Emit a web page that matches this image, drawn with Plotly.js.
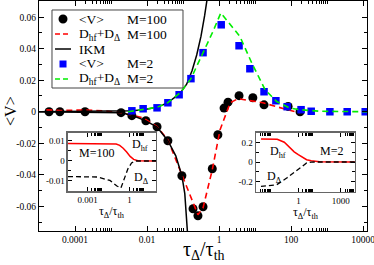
<!DOCTYPE html>
<html>
<head>
<meta charset="utf-8">
<script src="https://cdn.plot.ly/plotly-3.0.1.min.js"></script>
<style>html,body{margin:0;padding:0;background:#fff;}#chart{width:374px;height:265px;}</style>
</head>
<body>
<div id="chart"></div>
<script>
// ---- main panel data ----
const vM100_x = [1.9e-5, 3.8e-5, 1.9e-4, 1.9e-3, 3.8e-3, 9.3e-3, 0.019, 0.038, 0.093, 0.19, 0.26, 0.36, 0.65, 0.93, 1.38, 1.78, 3.6, 8.7, 17.8, 83, 178];
const vM100_y = [0, 0, 0, -0.0006, -0.0025, -0.0057, -0.0095, -0.0184, -0.0406, -0.0616, -0.066, -0.0603, -0.0362, -0.0146, 0.0023, 0.0061, 0.0102, 0.0089, 0.0044, 0.0034, 0];

const dM100_x = [1.6e-5, 4e-5, 1.9e-4, 6.3e-4, 1.8e-3, 3.8e-3, 7.8e-3, 0.019, 0.038, 0.093, 0.178, 0.26, 0.36, 0.65, 1.07, 2.04, 3.4, 16.6, 78, 178];
const dM100_y = [0.0012, 0.0008, 0.0012, 0.0006, -0.0006, -0.002, -0.0038, -0.0095, -0.0178, -0.040, -0.0559, -0.0654, -0.061, -0.0368, -0.0114, 0.0057, 0.0083, 0.0057, 0.0013, -0.0006];

const ikmM2_x = [1e-5, 3.2e-4, 1.6e-3, 3.8e-3, 7.9e-3, 0.019, 0.038, 0.083, 0.126, 0.178, 0.24, 0.316, 0.398, 0.5];
const ikmM2_y = [0, 0.0001, 0.0003, 0.0006, 0.0012, 0.0028, 0.0058, 0.0117, 0.0175, 0.026, 0.036, 0.048, 0.061, 0.076];

const ikmM100_x = [1e-5, 1e-4, 1e-3, 1.9e-3, 3.8e-3, 9.3e-3, 0.019, 0.038, 0.063, 0.093, 0.112, 0.129, 0.141];
const ikmM100_y = [0, -0.0001, -0.0003, -0.0006, -0.0022, -0.0058, -0.0097, -0.0184, -0.028, -0.0406, -0.052, -0.075, -0.085];

const vM2_x = [3.8e-3, 7.8e-3, 0.019, 0.038, 0.078, 0.166, 0.36, 1.15, 3.6, 7.2, 17.8, 38, 78, 190, 363, 1200, 3630, 11500];
const vM2_y = [0.0006, 0.0019, 0.0025, 0.0057, 0.0108, 0.021, 0.0375, 0.0552, 0.0419, 0.0273, 0.0127, 0.007, 0.0032, 0.0013, 0.0003, 0, 0, 0];

const dM2_x = [2.95e-3, 7.9e-3, 0.019, 0.038, 0.083, 0.166, 0.36, 0.68, 1.12, 3.8, 8.1, 19, 40, 93, 178, 630, 15800];
const dM2_y = [0, 0.0013, 0.0028, 0.0058, 0.012, 0.021, 0.037, 0.051, 0.0627, 0.0478, 0.031, 0.014, 0.0065, 0.0023, 0.0013, 0.0003, 0];

// ---- inset M=100 ----
const in1_hf_x = [4e-5, 0.063, 0.112, 0.2, 0.355, 0.631, 1.12, 2.0, 3.98, 79.4];
const in1_hf_y = [0.0088, 0.0087, 0.0085, 0.0078, 0.0064, 0.0045, 0.0023, 0.0008, 0.0001, 0];
const in1_dd_x = [4e-5, 5e-3, 0.04, 0.126, 0.245, 0.447, 0.776, 1.41, 2.45, 79.4];
const in1_dd_y = [-0.0078, -0.008, -0.0097, -0.0125, -0.0135, -0.009, -0.0039, -0.001, 0, 0];

// ---- inset M=2 ----
const in2_hf_x = [2.24e-3, 0.0316, 0.1, 0.251, 0.5, 0.977, 2.0, 3.8, 7.94, 14.8, 31.6, 1e4];
const in2_hf_y = [0.238, 0.235, 0.205, 0.145, 0.105, 0.076, 0.045, 0.024, 0.012, 0.007, 0.002, 0];
const in2_dd_x = [2.24e-3, 0.0288, 0.148, 0.398, 0.977, 2.0, 3.8, 7.94, 14.8, 1e4];
const in2_dd_y = [-0.252, -0.235, -0.166, -0.12, -0.08, -0.04, -0.01, -0.002, 0, 0];

// ---- tick labels ----
const mainXTicks = [1e-4, 1e-2, 1, 100, 1e4];
const mainXText = ["0.0001", "0.01", "1", "100", "10000"];
const mainYTicks = [-0.06, -0.04, -0.02, 0, 0.02, 0.04, 0.06];
const mainYText = ["-0.06", "-0.04", "-0.02", "0", "0.02", "0.04", "0.06"];
const in1XTicks = [1e-3, 1];
const in1XText = ["0.001", "1"];
const in1YTicks = [-0.01, 0, 0.01];
const in1YText = ["-0.01", "0", "0.01"];
const in2XTicks = [1, 1000];
const in2XText = ["1", "1000"];
const in2YTicks = [-0.2, 0, 0.2];
const in2YText = ["-0.2", "0", "0.2"];

function minorLog(exps) {
  const out = [];
  exps.forEach(k => { for (let m = 2; m <= 10; m++) out.push(m * Math.pow(10, k)); });
  return out;
}

const SERIF = "Liberation Serif";
const RED = "#ff0000", GREEN = "#00ee00", BLUE = "#0000ff";

const traces = [
  {x: vM100_x, y: vM100_y, mode: "markers", type: "scatter", marker: {color: "black", size: 9, symbol: "circle"}, showlegend: false},
  {x: dM100_x, y: dM100_y, mode: "lines", type: "scatter", line: {color: RED, width: 1.6, dash: "6px,4px"}, showlegend: false},
  {x: ikmM2_x, y: ikmM2_y, mode: "lines", type: "scatter", line: {color: "black", width: 1.5}, showlegend: false},
  {x: ikmM100_x, y: ikmM100_y, mode: "lines", type: "scatter", line: {color: "black", width: 1.5}, showlegend: false},
  {x: vM2_x, y: vM2_y, mode: "markers", type: "scatter", marker: {color: BLUE, size: 7.5, symbol: "square"}, showlegend: false},
  {x: dM2_x, y: dM2_y, mode: "lines", type: "scatter", line: {color: GREEN, width: 1.6, dash: "6px,4px"}, showlegend: false},
  {x: in1_hf_x, y: in1_hf_y, xaxis: "x2", yaxis: "y2", mode: "lines", type: "scatter", line: {color: RED, width: 1.5}, showlegend: false},
  {x: in1_dd_x, y: in1_dd_y, xaxis: "x2", yaxis: "y2", mode: "lines", type: "scatter", line: {color: "black", width: 1.3, dash: "5px,3px"}, showlegend: false},
  {x: in2_hf_x, y: in2_hf_y, xaxis: "x3", yaxis: "y3", mode: "lines", type: "scatter", line: {color: RED, width: 1.5}, showlegend: false},
  {x: in2_dd_x, y: in2_dd_y, xaxis: "x3", yaxis: "y3", mode: "lines", type: "scatter", line: {color: "black", width: 1.3, dash: "5px,3px"}, showlegend: false}
];

const axBase = {showgrid: false, zeroline: false, showline: true, mirror: "allticks", ticks: "inside", tickcolor: "black", linecolor: "black", linewidth: 1, ticklabeloverflow: "allow"};

const layout = {
  width: 374, height: 265,
  margin: {l: 39, r: 7, t: 1, b: 34},
  paper_bgcolor: "white", plot_bgcolor: "white",
  showlegend: false,
  font: {family: SERIF, color: "black"},
  xaxis: Object.assign({}, axBase, {
    type: "log", range: [-5, 4.11], tickmode: "array", tickvals: mainXTicks, ticktext: mainXText,
    ticklen: 5, tickfont: {family: SERIF, size: 9.5, color: "black"},
    minor: {tickmode: "array", tickvals: minorLog([-4, -2, 0, 2]), ticklen: 3, ticks: "inside", tickcolor: "black"}
  }),
  yaxis: Object.assign({}, axBase, {
    range: [-0.0757, 0.0703], tickmode: "array", tickvals: mainYTicks, ticktext: mainYText,
    ticklen: 5, tickfont: {family: SERIF, size: 9.5, color: "black"},
    minor: {tickmode: "array", tickvals: [-0.07, -0.05, -0.03, -0.01, 0.01, 0.03, 0.05, 0.07], ticklen: 3, ticks: "inside", tickcolor: "black"}
  }),
  xaxis2: Object.assign({}, axBase, {
    type: "log", range: [-4.4, 1.9], domain: [0.0884, 0.3567], anchor: "y2",
    tickmode: "array", tickvals: in1XTicks, ticktext: in1XText, ticklen: 4,
    linecolor: "#666", linewidth: 1.5, tickfont: {family: SERIF, size: 9, color: "black"},
    minor: {tickmode: "array", tickvals: minorLog([-3, 0]), ticklen: 3, ticks: "inside", tickcolor: "black"}
  }),
  yaxis2: Object.assign({}, axBase, {
    range: [-0.015, 0.014], domain: [0.1739, 0.4261], anchor: "x2",
    tickmode: "array", tickvals: in1YTicks, ticktext: in1YText, ticklen: 4,
    linecolor: "#666", linewidth: 1.5, tickfont: {family: SERIF, size: 9, color: "black"},
    minor: {tickmode: "array", tickvals: [-0.005, 0.005], ticklen: 3, ticks: "inside", tickcolor: "black"}
  }),
  xaxis3: Object.assign({}, axBase, {
    type: "log", range: [-3, 4], domain: [0.6616, 0.9634], anchor: "y3",
    tickmode: "array", tickvals: in2XTicks, ticktext: in2XText, ticklen: 4,
    linecolor: "#666", linewidth: 1.5, tickfont: {family: SERIF, size: 9, color: "black"},
    minor: {tickmode: "array", tickvals: minorLog([-3, 0, 3]), ticklen: 3, ticks: "inside", tickcolor: "black"}
  }),
  yaxis3: Object.assign({}, axBase, {
    range: [-0.31, 0.30], domain: [0.1696, 0.4261], anchor: "x3",
    tickmode: "array", tickvals: in2YTicks, ticktext: in2YText, ticklen: 4,
    linecolor: "#666", linewidth: 1.5, tickfont: {family: SERIF, size: 9, color: "black"},
    minor: {tickmode: "array", tickvals: [-0.1, 0.1], ticklen: 3, ticks: "inside", tickcolor: "black"}
  }),
  shapes: [
    // legend box
    {type: "rect", xref: "paper", yref: "paper", x0: 0.0396, x1: 0.439, y0: 0.6217, y1: 0.9609, line: {color: "#444", width: 1}, fillcolor: "white", layer: "above"},
    {type: "circle", xref: "paper", yref: "paper", x0: 0.0732 - 0.0137, x1: 0.0732 + 0.0137, y0: 0.9217 - 0.0196, y1: 0.9217 + 0.0196, fillcolor: "black", line: {color: "black", width: 0}, layer: "above"},
    {type: "line", xref: "paper", yref: "paper", x0: 0.0488, x1: 0.0976, y0: 0.8565, y1: 0.8565, line: {color: RED, width: 1.6, dash: "5px,3px"}, layer: "above"},
    {type: "line", xref: "paper", yref: "paper", x0: 0.0488, x1: 0.0976, y0: 0.7913, y1: 0.7913, line: {color: "black", width: 1.5}, layer: "above"},
    {type: "rect", xref: "paper", yref: "paper", x0: 0.0732 - 0.0107, x1: 0.0732 + 0.0107, y0: 0.7261 - 0.0152, y1: 0.7261 + 0.0152, fillcolor: BLUE, line: {color: BLUE, width: 0}, layer: "above"},
    {type: "line", xref: "paper", yref: "paper", x0: 0.0488, x1: 0.0976, y0: 0.6609, y1: 0.6609, line: {color: GREEN, width: 1.6, dash: "5px,3px"}, layer: "above"}
  ],
  annotations: [
    // legend text
    {xref: "paper", yref: "paper", x: 0.1159, y: 0.9217, xanchor: "left", yanchor: "middle", text: "&lt;V&gt;", showarrow: false, font: {family: SERIF, size: 13.5}},
    {xref: "paper", yref: "paper", x: 0.2622, y: 0.9217, xanchor: "left", yanchor: "middle", text: "M=100", showarrow: false, font: {family: SERIF, size: 13.5}},
    {xref: "paper", yref: "paper", x: 0.1159, y: 0.8565, xanchor: "left", yanchor: "middle", text: "D<sub>hf</sub>+D<sub>Δ</sub>", showarrow: false, font: {family: SERIF, size: 13.5}},
    {xref: "paper", yref: "paper", x: 0.2622, y: 0.8565, xanchor: "left", yanchor: "middle", text: "M=100", showarrow: false, font: {family: SERIF, size: 13.5}},
    {xref: "paper", yref: "paper", x: 0.1159, y: 0.7913, xanchor: "left", yanchor: "middle", text: "IKM", showarrow: false, font: {family: SERIF, size: 13.5}},
    {xref: "paper", yref: "paper", x: 0.1159, y: 0.7261, xanchor: "left", yanchor: "middle", text: "&lt;V&gt;", showarrow: false, font: {family: SERIF, size: 13.5}},
    {xref: "paper", yref: "paper", x: 0.2622, y: 0.7261, xanchor: "left", yanchor: "middle", text: "M=2", showarrow: false, font: {family: SERIF, size: 13.5}},
    {xref: "paper", yref: "paper", x: 0.1159, y: 0.6609, xanchor: "left", yanchor: "middle", text: "D<sub>hf</sub>+D<sub>Δ</sub>", showarrow: false, font: {family: SERIF, size: 13.5}},
    {xref: "paper", yref: "paper", x: 0.2622, y: 0.6609, xanchor: "left", yanchor: "middle", text: "M=2", showarrow: false, font: {family: SERIF, size: 13.5}},
    // axis titles
    {xref: "paper", yref: "paper", x: 0.503, y: -0.083, xanchor: "center", yanchor: "middle", text: "τ<sub>Δ</sub>/τ<sub>th</sub>", showarrow: false, font: {family: SERIF, size: 20}},
    {xref: "paper", yref: "paper", x: -0.0854, y: 0.522, xanchor: "center", yanchor: "middle", text: "&lt;V&gt;", textangle: -90, showarrow: false, font: {family: SERIF, size: 16}},
    // inset 1 labels
    {xref: "x2 domain", yref: "y2 domain", x: 0.32, y: 0.655, xanchor: "center", yanchor: "middle", text: "M=100", showarrow: false, font: {family: SERIF, size: 12}},
    {xref: "x2 domain", yref: "y2 domain", x: 0.70, y: 0.80, xanchor: "left", yanchor: "middle", text: "D<sub>hf</sub>", showarrow: false, font: {family: SERIF, size: 12}},
    {xref: "x2 domain", yref: "y2 domain", x: 0.727, y: 0.22, xanchor: "left", yanchor: "middle", text: "D<sub>Δ</sub>", showarrow: false, font: {family: SERIF, size: 12}},
    {xref: "x2 domain", yref: "y2 domain", x: 0.5, y: -0.36, xanchor: "center", yanchor: "middle", text: "τ<sub>Δ</sub>/τ<sub>th</sub>", showarrow: false, font: {family: SERIF, size: 12}},
    // inset 2 labels
    {xref: "x3 domain", yref: "y3 domain", x: 0.12, y: 0.68, xanchor: "left", yanchor: "middle", text: "D<sub>hf</sub>", showarrow: false, font: {family: SERIF, size: 12}},
    {xref: "x3 domain", yref: "y3 domain", x: 0.626, y: 0.69, xanchor: "left", yanchor: "middle", text: "M=2", showarrow: false, font: {family: SERIF, size: 12}},
    {xref: "x3 domain", yref: "y3 domain", x: 0.09, y: 0.25, xanchor: "left", yanchor: "middle", text: "D<sub>Δ</sub>", showarrow: false, font: {family: SERIF, size: 12}},
    {xref: "x3 domain", yref: "y3 domain", x: 0.5, y: -0.36, xanchor: "center", yanchor: "middle", text: "τ<sub>Δ</sub>/τ<sub>th</sub>", showarrow: false, font: {family: SERIF, size: 12}}
  ]
};

Plotly.newPlot("chart", traces, layout, {staticPlot: true, displayModeBar: false});
</script>
</body>
</html>
